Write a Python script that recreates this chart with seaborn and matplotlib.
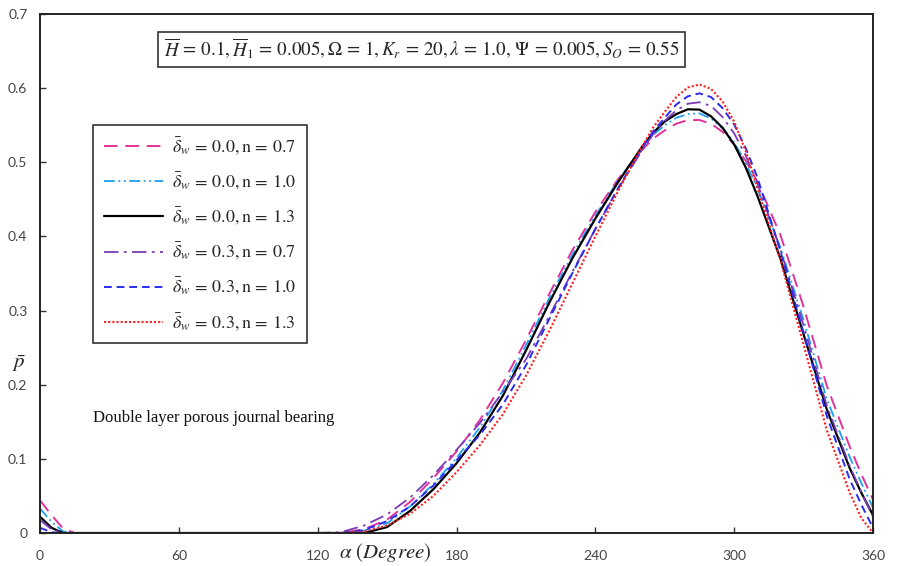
import matplotlib
matplotlib.use("Agg")
import matplotlib.pyplot as plt
import seaborn as sns
import pandas as pd

# ---- data ----
alpha = [0, 5, 10, 15, 60, 120, 130, 140, 150, 160, 170, 180, 190, 200, 210, 220,
         230, 240, 250, 260, 265, 270, 275, 280, 285, 290, 295, 300, 305, 310, 320, 330,
         340, 350, 355, 360]

p_d00_n07 = [0.044, 0.024, 0.006, 0.0, 0.0, 0.0, 0.0, 0.005, 0.018, 0.042, 0.074, 0.110, 0.152,
             0.202, 0.260, 0.322, 0.381, 0.433, 0.478, 0.516, 0.532, 0.543, 0.552, 0.557, 0.557,
             0.552, 0.541, 0.524, 0.502, 0.474, 0.402, 0.305, 0.199, 0.116, 0.079, 0.045]
p_d00_n10 = [0.033, 0.015, 0.002, 0.0, 0.0, 0.0, 0.0, 0.003, 0.013, 0.036, 0.066, 0.101, 0.142,
             0.192, 0.253, 0.316, 0.375, 0.428, 0.476, 0.518, 0.537, 0.550, 0.560, 0.565, 0.566,
             0.559, 0.546, 0.527, 0.499, 0.465, 0.385, 0.287, 0.181, 0.102, 0.067, 0.034]
p_d00_n13 = [0.022, 0.007, 0.0, 0.0, 0.0, 0.0, 0.0, 0.0, 0.008, 0.030, 0.059, 0.094, 0.135,
             0.185, 0.246, 0.310, 0.370, 0.424, 0.474, 0.520, 0.540, 0.555, 0.565, 0.5715, 0.571,
             0.562, 0.5465, 0.524, 0.493, 0.455, 0.370, 0.268, 0.167, 0.087, 0.054, 0.024]
p_d03_n07 = [0.0175, 0.005, 0.0, 0.0, 0.0, 0.0, 0.001, 0.010, 0.025, 0.048, 0.078, 0.112, 0.148,
             0.190, 0.234, 0.292, 0.352, 0.410, 0.465, 0.515, 0.538, 0.556, 0.570, 0.579, 0.581,
             0.576, 0.561, 0.539, 0.509, 0.472, 0.382, 0.280, 0.172, 0.090, 0.055, 0.022]
p_d03_n10 = [0.007, 0.001, 0.0, 0.0, 0.0, 0.0, 0.0, 0.004, 0.016, 0.036, 0.064, 0.098, 0.132,
             0.173, 0.226, 0.288, 0.350, 0.410, 0.466, 0.518, 0.542, 0.560, 0.578, 0.589, 0.593,
             0.588, 0.573, 0.551, 0.519, 0.480, 0.380, 0.270, 0.158, 0.072, 0.038, 0.007]
p_d03_n13 = [0.0, 0.0, 0.0, 0.0, 0.0, 0.0, 0.0, 0.002, 0.010, 0.026, 0.050, 0.082, 0.118,
             0.160, 0.212, 0.272, 0.336, 0.400, 0.462, 0.520, 0.547, 0.568, 0.588, 0.601, 0.605,
             0.599, 0.582, 0.555, 0.515, 0.466, 0.368, 0.254, 0.139, 0.054, 0.020, 0.0]

labels = [r"$\bar{\delta}_w\,=\,0.0,\mathrm{n}\,=\,0.7$",
          r"$\bar{\delta}_w\,=\,0.0,\mathrm{n}\,=\,1.0$",
          r"$\bar{\delta}_w\,=\,0.0,\mathrm{n}\,=\,1.3$",
          r"$\bar{\delta}_w\,=\,0.3,\mathrm{n}\,=\,0.7$",
          r"$\bar{\delta}_w\,=\,0.3,\mathrm{n}\,=\,1.0$",
          r"$\bar{\delta}_w\,=\,0.3,\mathrm{n}\,=\,1.3$"]
series = [p_d00_n07, p_d00_n10, p_d00_n13, p_d03_n07, p_d03_n10, p_d03_n13]

x_ticks = [0, 60, 120, 180, 240, 300, 360]
y_ticks = [0, 0.1, 0.2, 0.3, 0.4, 0.5, 0.6, 0.7]

# ---- style ----
sns.set_style("white")
plt.rcParams["font.family"] = ["Lato", "DejaVu Sans"]
plt.rcParams["mathtext.fontset"] = "stix"

colors = ["#E0339C", "#1E9FF0", "#000000", "#7A3BB8", "#2B2BF0", "#FF2020"]
styles = [(0, (7, 4)), (0, (6, 2, 1, 2, 1, 2)), "-", (0, (8, 3, 1.5, 3)), (0, (4, 2.5)), (0, (1, 1))]
widths = [1.4, 1.3, 1.6, 1.3, 1.4, 1.5]

fig = plt.figure(figsize=(8.98, 5.66), dpi=100)
ax = fig.add_axes([40 / 898, 33 / 566, 833 / 898, 519 / 566])

for lab, ys, c, ls, lw in zip(labels, series, colors, styles, widths):
    df = pd.DataFrame({"alpha": alpha, "p": ys})
    sns.lineplot(data=df, x="alpha", y="p", ax=ax, color=c, linestyle=ls,
                 linewidth=lw, label=lab)

ax.set_xlim(0, 360)
ax.set_ylim(0, 0.7)
ax.set_xticks(x_ticks)
ax.set_yticks(y_ticks)
ax.set_xticklabels([str(v) for v in x_ticks])
ax.set_yticklabels(["0"] + [f"{v:.1f}" for v in y_ticks[1:]])
ax.set_xlabel("")
ax.set_ylabel("")
ax.tick_params(direction="in", length=4, width=1, colors="#333333",
               labelsize=10, labelcolor="#444444", pad=9, bottom=True, left=True,
               top=False, right=False)
ax.tick_params(axis="x", pad=12)
for s in ax.spines.values():
    s.set_visible(True)
    s.set_color("#222222")
    s.set_linewidth(1.4)

leg = ax.legend(loc="upper left", bbox_to_anchor=(0.0636, 0.786), fontsize=13,
                frameon=True, fancybox=False, edgecolor="#333333", framealpha=1,
                handlelength=3.3, labelspacing=0.78, borderpad=0.6, handletextpad=0.5,
                borderaxespad=0)
leg.get_frame().set_linewidth(1.2)

ax.text(0.458, 0.932,
        r"$\overline{H}\,=\,0.1, \overline{H}_1\,=\,0.005, \Omega\,=\,1, K_r\,=\,20, "
        r"\lambda\,=\,1.0,\, \Psi\,=\,0.005, S_O\,=\,0.55$",
        transform=ax.transAxes, ha="center", va="center", fontsize=13.7,
        bbox=dict(boxstyle="square,pad=0.28", facecolor="white", edgecolor="#333333",
                  linewidth=1.2))

ax.text(0.064, 0.222, "Double layer porous journal bearing", transform=ax.transAxes,
        fontsize=12, family="Liberation Serif", ha="left", va="center", color="#111111")

fig.text(385 / 898, 1 - 553 / 566, r"$\alpha\ (Degree)$", ha="center", va="center",
         fontsize=15)
fig.text(19 / 898, 1 - 364 / 566, r"$\bar{p}$", ha="center", va="center", fontsize=15)

fig.savefig("out.png", dpi=100)
